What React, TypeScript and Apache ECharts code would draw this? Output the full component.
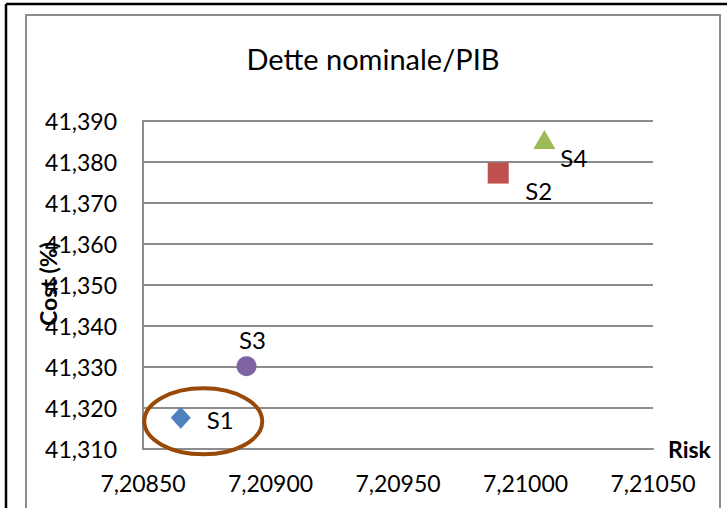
import React, { useEffect, useRef } from "react";
import * as echarts from "echarts";

const seriesNames = ["S1", "S2", "S3", "S4"];
const riskValues = [7.208648, 7.209893, 7.208906, 7.210074];
const costValues = [41.3176, 41.3773, 41.3302, 41.3855];
const colors = ["#4F81BD", "#C0504D", "#8064A2", "#9BBB59"];
const symbols = ["diamond", "rect", "circle", "triangle"];
const symbolSizes: any[] = [[20, 22], 21, 20, [22, 19]];
const labelPositions: any[] = [[26, 2], [27, 17], [6, -27], [16, 18]];
const labelAligns = ["left", "left", "center", "left"];
const xTicks = { min: 7.2085, max: 7.2105, interval: 0.0005 };
const yTicks = { min: 41.31, max: 41.39, interval: 0.01 };
const titleText = "Dette nominale/PIB";
const xName = "Risk";
const yName = "Cost (%)";

const FONT = "Lato, 'Noto Sans', sans-serif";

function fmt(v: number, d: number) {
  return v.toFixed(d).replace(".", ",");
}

export default function App() {
  const ref = useRef<HTMLDivElement>(null);
  useEffect(() => {
    if (!ref.current) return;
    const chart = echarts.init(ref.current, null, { renderer: "svg" });
    const series = seriesNames.map((name, i) => ({
      name,
      type: "scatter",
      data: [[riskValues[i], costValues[i]]],
      symbol: symbols[i],
      symbolSize: symbolSizes[i],
      itemStyle: { color: colors[i], opacity: 1 },
      label: {
        show: true,
        formatter: name,
        position: "inside",
        offset: labelPositions[i],
        align: labelAligns[i],
        verticalAlign: "middle",
        color: "#000",
        fontFamily: FONT,
        fontSize: 24,
      },
      z: 3,
    }));
    const option: any = {
      animation: false,
      backgroundColor: "#fff",
      textStyle: { fontFamily: FONT },
      grid: { left: 143, right: 74, top: 121, bottom: 59, containLabel: false },
      xAxis: {
        type: "value",
        min: xTicks.min,
        max: xTicks.max,
        interval: xTicks.interval,
        name: xName,
        nameLocation: "end",
        nameGap: 15,
        nameTextStyle: { fontFamily: FONT, fontSize: 23, fontWeight: "bold", color: "#000" },
        axisLine: { show: true, lineStyle: { color: "#8C8C8C", width: 2 } },
        axisTick: { show: false },
        splitLine: { show: false },
        axisLabel: {
          formatter: (v: number) => fmt(v, 5),
          margin: 22,
          fontFamily: FONT,
          fontSize: 23,
          color: "#000",
        },
      },
      yAxis: {
        type: "value",
        min: yTicks.min,
        max: yTicks.max,
        interval: yTicks.interval,
        axisLine: { show: true, lineStyle: { color: "#8C8C8C", width: 2 } },
        axisTick: { show: false },
        splitLine: { show: true, lineStyle: { color: "#8C8C8C", width: 2 } },
        axisLabel: {
          formatter: (v: number) => fmt(v, 3),
          margin: 26,
          fontFamily: FONT,
          fontSize: 23,
          color: "#000",
        },
      },
      series,
    };
    chart.setOption(option);

    const p = chart.convertToPixel({ gridIndex: 0 } as any, [riskValues[0], costValues[0]]) as number[];
    chart.setOption({
      graphic: [
        { type: "line", shape: { x1: 6, y1: 4, x2: 727, y2: 4 }, style: { stroke: "#000", lineWidth: 2.5 }, z: 10 },
        { type: "line", shape: { x1: 6, y1: 4, x2: 6, y2: 508 }, style: { stroke: "#000", lineWidth: 2.5 }, z: 10 },
        { type: "rect", shape: { x: 26, y: 15, width: 694, height: 510 }, style: { fill: "none", stroke: "#8C8C8C", lineWidth: 2 }, z: -1 },
        {
          type: "text",
          x: 373,
          y: 58,
          style: { text: titleText, fontFamily: FONT, fontSize: 29, fill: "#000", align: "center", verticalAlign: "middle" },
          z: 20,
        },
        {
          type: "text",
          x: 48,
          y: 284,
          rotation: Math.PI / 2,
          style: { text: yName, fontFamily: FONT, fontSize: 23, fontWeight: "bold", fill: "#000", align: "center", verticalAlign: "middle" },
          z: 20,
        },
        {
          type: "ellipse",
          shape: { cx: p[0] + 22.5, cy: p[1] + 3.5, rx: 59, ry: 33 },
          style: { fill: "none", stroke: "#984807", lineWidth: 4 },
          z: 20,
        },
      ],
    });
    return () => chart.dispose();
  }, []);
  return (
    <div
      ref={ref}
      style={{ position: "fixed", left: 0, top: 0, width: 727, height: 508, background: "#fff" }}
    />
  );
}
